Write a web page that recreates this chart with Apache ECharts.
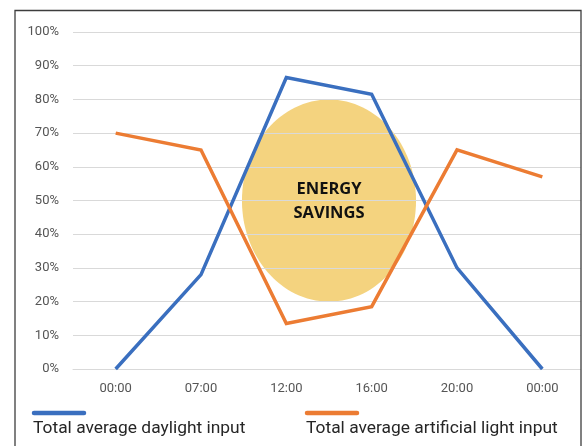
<!DOCTYPE html>
<html>
<head>
<meta charset="utf-8">
<script src="https://cdn.jsdelivr.net/npm/echarts@6/dist/echarts.min.js"></script>
<style>
  html, body { margin: 0; padding: 0; background: #ffffff; }
  #chart { width: 587px; height: 446px; }
</style>
</head>
<body>
<div id="chart"></div>
<script>
// Hours of the day (the cycle closes back at midnight)
const categories = ['00:00', '07:00', '12:00', '16:00', '20:00', '00:00'];
// Share of total light input, in percent
const daylightInput = [0, 28, 86.5, 81.5, 30, 0];
const artificialInput = [70, 65, 13.5, 18.5, 65, 57];
const seriesNames = ['Total average daylight input', 'Total average artificial light input'];
const seriesColors = ['#3a6fbf', '#ec7c33'];
const savingsLabel = 'ENERGY\nSAVINGS';

const chart = echarts.init(document.getElementById('chart'), null, { renderer: 'canvas' });

chart.setOption({
  animation: false,
  backgroundColor: '#ffffff',
  grid: { left: 73, right: 2, top: 32, bottom: 77, containLabel: false },
  xAxis: {
    type: 'category',
    data: categories,
    boundaryGap: true,
    axisLine: { show: true, lineStyle: { color: '#d9d9d9', width: 1 } },
    axisTick: { show: false },
    axisLabel: { color: '#555555', fontFamily: 'Roboto', fontSize: 13, margin: 13 }
  },
  yAxis: {
    type: 'value',
    min: 0,
    max: 100,
    interval: 10,
    axisLine: { show: false },
    axisTick: { show: false },
    splitLine: { lineStyle: { color: '#d9d9d9', width: 1 } },
    axisLabel: { color: '#555555', fontFamily: 'Roboto', fontSize: 13, margin: 14, formatter: '{value}%' }
  },
  series: [
    {
      name: seriesNames[0], type: 'line', data: daylightInput,
      symbol: 'none', z: 5,
      lineStyle: { color: seriesColors[0], width: 3.5, join: 'miter' }
    },
    {
      name: seriesNames[1], type: 'line', data: artificialInput,
      symbol: 'none', z: 5,
      lineStyle: { color: seriesColors[1], width: 3.5, join: 'miter' }
    }
  ]
});

// Savings ellipse spans from the gap before 12:00 to the gap after 16:00,
// and from 20% to 80%.
const p12 = chart.convertToPixel({ gridIndex: 0 }, [2, 50]);
const p16 = chart.convertToPixel({ gridIndex: 0 }, [3, 50]);
const y80 = chart.convertToPixel({ yAxisIndex: 0 }, 80);
const y20 = chart.convertToPixel({ yAxisIndex: 0 }, 20);
const band = p16[0] - p12[0];
const cx = (p12[0] + p16[0]) / 2;
const cy = (y80 + y20) / 2;

chart.setOption({
  graphic: [
    {
      type: 'ellipse', z: -10, silent: true,
      shape: { cx: cx, cy: cy, rx: band * 1.02, ry: (y20 - y80) / 2 },
      style: { fill: '#f4d37f' }
    },
    {
      type: 'text', z: 10, silent: true,
      x: cx, y: cy + 1,
      style: {
        text: savingsLabel, fill: '#111111', align: 'center', verticalAlign: 'middle',
        font: 'bold 16.5px "Open Sans"', lineHeight: 24
      }
    },
    // blank margin right of the frame (own layer, above the plot)
    {
      type: 'rect', zlevel: 1, z: 1, silent: true,
      shape: { x: 581, y: 0, width: 10, height: 446 },
      style: { fill: '#ffffff' }
    },
    // frame around the figure
    {
      type: 'rect', zlevel: 1, z: 2, silent: true,
      shape: { x: 15, y: 10.5, width: 566, height: 460 },
      style: { fill: null, stroke: '#3d3d3d', lineWidth: 1.3 }
    },
    // legend: sample stroke above each name
    {
      type: 'line', z: 20, silent: true,
      shape: { x1: 34, y1: 413, x2: 84, y2: 413 },
      style: { stroke: seriesColors[0], lineWidth: 4.5, lineCap: 'round' }
    },
    {
      type: 'text', z: 20, silent: true, x: 33, y: 429,
      style: { text: seriesNames[0], fill: '#262626', font: '17.4px Roboto', verticalAlign: 'middle' }
    },
    {
      type: 'line', z: 20, silent: true,
      shape: { x1: 307, y1: 413, x2: 357, y2: 413 },
      style: { stroke: seriesColors[1], lineWidth: 4.5, lineCap: 'round' }
    },
    {
      type: 'text', z: 20, silent: true, x: 306, y: 429,
      style: { text: seriesNames[1], fill: '#262626', font: '17.4px Roboto', verticalAlign: 'middle' }
    }
  ]
});
</script>
</body>
</html>
